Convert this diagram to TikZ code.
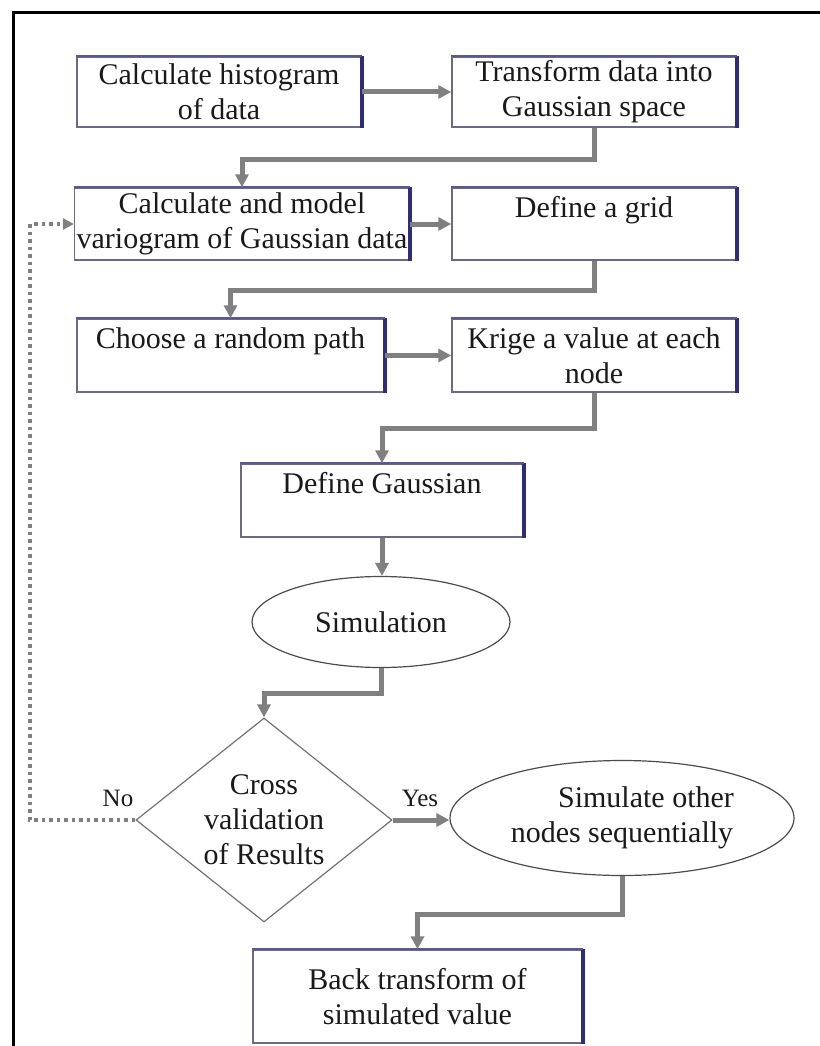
\documentclass[tikz,border=0pt]{standalone}
\usepackage{fontspec}
\setmainfont{Liberation Serif}
\usetikzlibrary{shapes.geometric,arrows.meta}
\definecolor{conngray}{HTML}{808080}
\definecolor{boxline}{HTML}{6A6A88}
\definecolor{navyedge}{HTML}{2E2E78}
\definecolor{txt}{HTML}{1A1A1A}
\tikzset{
  stepbox/.style={draw=boxline, line width=1.5pt, rectangle, align=center, inner sep=2pt,
    font=\rmfamily\fontsize{30}{35}\selectfont, text=txt},
  ovalbox/.style={draw=black!70, line width=1.2pt, ellipse, align=center, inner sep=0pt,
    font=\rmfamily\fontsize{30}{35}\selectfont, text=txt},
  decbox/.style={draw=black!55, line width=1.2pt, diamond, aspect=1.25, align=center, inner sep=0pt,
    font=\rmfamily\fontsize{30}{35}\selectfont, text=txt},
  conn/.style={draw=conngray, line width=5pt, -{Triangle[length=13pt,width=13pt]}, color=conngray},
  dotconn/.style={draw=conngray, line width=4pt, dash pattern=on 3.5pt off 4pt,
    -{Triangle[length=11pt,width=11pt]}, color=conngray},
  rightedge/.style={draw=navyedge, line width=3.5pt},
  lbl/.style={font=\rmfamily\fontsize{25}{28}\selectfont, text=txt}
}
\begin{document}
\begin{tikzpicture}[x=1pt, y=-1pt]
\useasboundingbox (0,0) rectangle (819,1046);
\fill[white] (0,0) rectangle (819,1046);
% outer frame
\draw[line width=3pt, black] (13,1050) -- (13,13) -- (822,13);

% boxes
\node[stepbox, minimum width=284pt, minimum height=70pt] (b1) at (219,92) {Calculate histogram\\of data};
\node[stepbox, minimum width=284pt, minimum height=70pt] (b2) at (594,92) {Transform data into\\Gaussian space};
\node[stepbox, minimum width=330pt, minimum height=72pt] (b3) at (242,224) {Calculate and model\\variogram of Gaussian data};
\node[stepbox, minimum width=284pt, minimum height=72pt] (b4) at (594,224) {Define a grid\\\mbox{}};
\node[stepbox, minimum width=307pt, minimum height=73pt] (b5) at (230.5,355.5) {Choose a random path\\\mbox{}};
\node[stepbox, minimum width=284pt, minimum height=73pt] (b6) at (594,355.5) {Krige a value at each\\node};
\node[stepbox, minimum width=282pt, minimum height=73pt] (b7) at (382,500.5) {Define Gaussian\\\mbox{}};
\node[ovalbox, minimum width=258pt, minimum height=91pt] (sim) at (381,622) {Simulation};
\node[decbox, minimum width=256pt, minimum height=204pt] (dia) at (264,820) {Cross\\validation\\of Results};
\node[ovalbox, minimum width=344pt, minimum height=115pt] (sim2) at (622,818) {\hspace*{48pt}Simulate other\\nodes sequentially};
\node[stepbox, minimum width=329pt, minimum height=93pt] (b8) at (417.5,996.5) {Back transform of\\simulated value};

% navy right edges (shadow look)
\foreach \b in {b1,b2,b3,b4,b5,b6,b7,b8}{
  \draw[rightedge] (\b.north east) -- (\b.south east);
  \draw[draw=navyedge!80, line width=1.8pt] (\b.north west) -- (\b.north east);
}

% labels
\node[lbl] (no) at (118,798) {No};
\node[lbl] (yes) at (420,798) {Yes};

% connectors
\draw[conn] (b1.east) -- (b2.west);
\draw[conn] (b2.south) -- ++(0,32) -| (b3.north);
\draw[conn] (b3.east) -- (b4.west);
\draw[conn] (b4.south) -- ++(0,30) -| (b5.north);
\draw[conn] (b5.east) -- (b6.west);
\draw[conn] (b6.south) -- ++(0,36) -| (b7.north);
\draw[conn] (b7.south) -- (b7.south |- sim.north);
\draw[conn] (sim.south) -- ++(0,25) -| (dia.north);
\draw[conn] (dia.east) -- (dia.east -| sim2.west);
\draw[conn] (sim2.south) -- ++(0,38) -| (b8.north);
\draw[dotconn] (dia.west) -- ++(-105,0) |- (b3.west);
\end{tikzpicture}
\end{document}
